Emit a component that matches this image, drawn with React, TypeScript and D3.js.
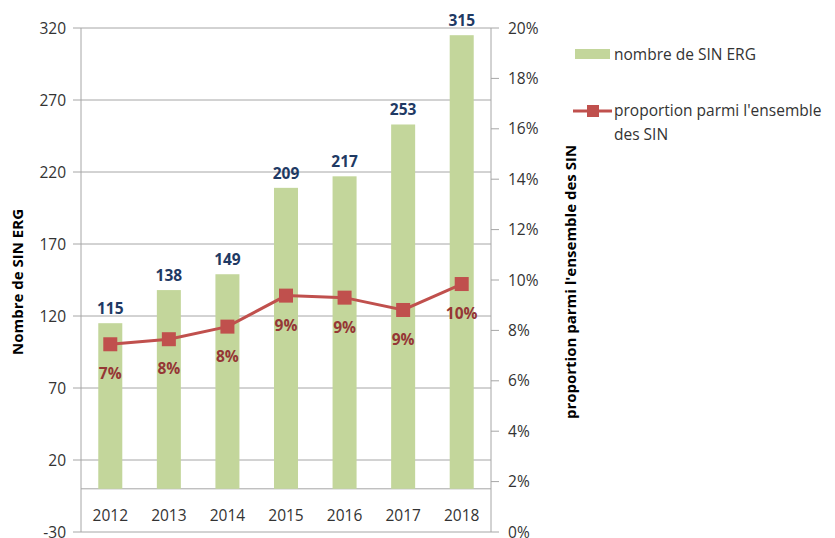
import React from "react";
import * as d3 from "d3";

const years = ["2012", "2013", "2014", "2015", "2016", "2017", "2018"];
const counts = [115, 138, 149, 209, 217, 253, 315];
const proportions = [7.45, 7.65, 8.15, 9.38, 9.3, 8.81, 9.84];
const proportionLabels = ["7%", "8%", "8%", "9%", "9%", "9%", "10%"];
const leftTicks = [-30, 20, 70, 120, 170, 220, 270, 320];
const rightTicks = [0, 2, 4, 6, 8, 10, 12, 14, 16, 18, 20];

const FONT = "'Open Sans', sans-serif";

export default function App() {
  const left = 81, right = 491, top = 28, bottom = 532;
  const x = d3.scaleBand<string>().domain(years).range([left, right]).paddingInner(0.59).paddingOuter(0.295);
  const band = d3.scaleBand<string>().domain(years).range([left, right]);
  const yL = d3.scaleLinear().domain([-30, 320]).range([bottom, top]);
  const yR = d3.scaleLinear().domain([0, 20]).range([bottom, top]);
  const cx = (y: string) => (band(y) as number) + band.bandwidth() / 2;
  const line = d3.line<number>().x((_, i) => cx(years[i])).y((d) => yR(d));
  const grid = "#a6a6a6";
  const fs = 15.5;
  return (
    <svg width={835} height={538} style={{ position: "absolute", left: 0, top: 0 }} fontFamily={FONT}>
      <rect width={835} height={538} fill="#fff" />
      {leftTicks.map((t) => (
        <g key={t}>
          <line x1={73} x2={right} y1={yL(t)} y2={yL(t)} stroke={grid} strokeWidth={1} />
          <text x={66} y={yL(t) + 5.5} textAnchor="end" fontSize={fs} fill="#333">{t}</text>
        </g>
      ))}
      <line x1={left} x2={right} y1={yL(0)} y2={yL(0)} stroke={grid} strokeWidth={1} />
      <line x1={left} x2={left} y1={top} y2={bottom} stroke={grid} strokeWidth={1} />
      <line x1={right} x2={right} y1={top} y2={bottom} stroke={grid} strokeWidth={1} />
      {rightTicks.map((t) => (
        <g key={t}>
          <line x1={right} x2={499} y1={yR(t)} y2={yR(t)} stroke={grid} strokeWidth={1} />
          <text x={508} y={yR(t) + 5.5} textAnchor="start" fontSize={fs} fill="#333">{t}%</text>
        </g>
      ))}
      {years.map((y, i) => (
        <g key={y}>
          <rect x={x(y)} width={x.bandwidth()} y={yL(counts[i])} height={yL(0) - yL(counts[i])} fill="#C3D69B" />
          <text x={cx(y)} y={yL(0) + 32} textAnchor="middle" fontSize={fs} fill="#333">{y}</text>
          <text x={cx(y)} y={yL(counts[i]) - 9} textAnchor="middle" fontSize={fs} fontWeight="bold" fill="#1F3A64">{counts[i]}</text>
        </g>
      ))}
      <path d={line(proportions) as string} fill="none" stroke="#C0504D" strokeWidth={3} />
      {years.map((y, i) => (
        <g key={"p" + y}>
          <rect x={cx(y) - 7} y={yR(proportions[i]) - 7} width={14} height={14} fill="#C0504D" />
          <text x={cx(y)} y={yR(proportions[i]) + 35} textAnchor="middle" fontSize={fs} fontWeight="bold" fill="#953735">{proportionLabels[i]}</text>
        </g>
      ))}
      <text transform={`translate(23,282) rotate(-90)`} textAnchor="middle" fontSize={15} fontWeight="bold" fill="#000">Nombre de SIN ERG</text>
      <text transform={`translate(576,282) rotate(-90)`} textAnchor="middle" fontSize={15} fontWeight="bold" fill="#000">proportion parmi l'ensemble des SIN</text>
      <rect x={575} y={49} width={35} height={10} fill="#C3D69B" />
      <text x={614} y={60} fontSize={fs} fill="#333">nombre de SIN ERG</text>
      <line x1={573} x2={612} y1={111} y2={111} stroke="#C0504D" strokeWidth={3} />
      <rect x={587} y={105} width={12} height={12} fill="#C0504D" />
      <text x={614} y={116} fontSize={fs} fill="#333">proportion parmi l'ensemble</text>
      <text x={614} y={140} fontSize={fs} fill="#333">des SIN</text>
    </svg>
  );
}
